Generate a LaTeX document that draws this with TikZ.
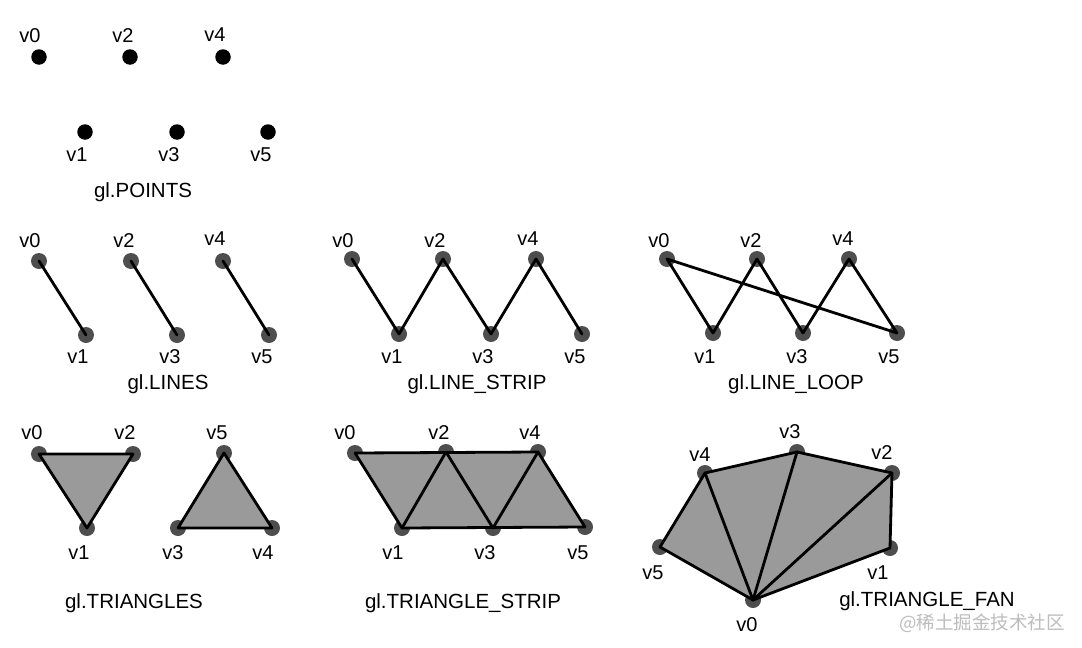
\documentclass[tikz,border=0pt]{standalone}
\usepackage{fontspec}
\setmainfont{Liberation Sans}
\newfontfamily\cjk{Noto Sans CJK SC}
\definecolor{dotgray}{HTML}{4E4E4E}
\definecolor{facegray}{HTML}{9A9A9A}
\definecolor{markgray}{HTML}{BDBDBD}
\begin{document}
\begin{tikzpicture}[x=1pt,y=-1pt,
  bdot/.style={circle,fill=black,minimum size=15.5pt,inner sep=0pt},
  gdot/.style={circle,fill=dotgray,minimum size=16pt,inner sep=0pt},
  lbl/.style={inner sep=0pt,font=\fontsize{20}{22}\selectfont},
  ttl/.style={inner sep=0pt,font=\fontsize{20.5}{23}\selectfont},
  edge/.style={line width=2.8pt,line join=round,line cap=round},
  face/.style={fill=facegray}]
\fill[white] (0,0) rectangle (1082,648);
\useasboundingbox (0,0) rectangle (1082,648);

% ---------- gl.POINTS ----------
\node[bdot] (a0) at (39,57) {};
\node[bdot] (a2) at (130,57) {};
\node[bdot] (a4) at (223,57) {};
\node[bdot] (a1) at (85,132) {};
\node[bdot] (a3) at (177,132) {};
\node[bdot] (a5) at (268,132) {};
\node[lbl] (la0) at (30,36) {v0};
\node[lbl] (la2) at (123,36) {v2};
\node[lbl] (la4) at (215,35) {v4};
\node[lbl] (la1) at (77,155) {v1};
\node[lbl] (la3) at (169,155) {v3};
\node[lbl] (la5) at (261,155) {v5};
\node[ttl] (ta) at (143,192) {gl.POINTS};

% ---------- gl.LINES ----------
\node[gdot] (b0) at (39,261) {};
\node[gdot] (b2) at (131,261) {};
\node[gdot] (b4) at (223,261) {};
\node[gdot] (b1) at (86,335) {};
\node[gdot] (b3) at (177,335) {};
\node[gdot] (b5) at (269,335) {};
\draw[edge] (b0.center) -- (b1.center);
\draw[edge] (b2.center) -- (b3.center);
\draw[edge] (b4.center) -- (b5.center);
\node[lbl] (lb0) at (30,241) {v0};
\node[lbl] (lb2) at (124,241) {v2};
\node[lbl] (lb4) at (215,239) {v4};
\node[lbl] (lb1) at (78,357) {v1};
\node[lbl] (lb3) at (170,357) {v3};
\node[lbl] (lb5) at (262,357) {v5};
\node[ttl] (tb) at (168,384) {gl.LINES};

% ---------- gl.LINE_STRIP ----------
\node[gdot] (c0) at (352,259) {};
\node[gdot] (c2) at (443,259) {};
\node[gdot] (c4) at (536,259) {};
\node[gdot] (c1) at (399,334) {};
\node[gdot] (c3) at (491,334) {};
\node[gdot] (c5) at (582,334) {};
\draw[edge] (c0.center) -- (c1.center) -- (c2.center) -- (c3.center) -- (c4.center) -- (c5.center);
\node[lbl] (lc0) at (343,241) {v0};
\node[lbl] (lc2) at (435,241) {v2};
\node[lbl] (lc4) at (528,239) {v4};
\node[lbl] (lc1) at (392,357) {v1};
\node[lbl] (lc3) at (483,357) {v3};
\node[lbl] (lc5) at (575,357) {v5};
\node[ttl] (tc) at (477,384) {gl.LINE\_STRIP};

% ---------- gl.LINE_LOOP ----------
\node[gdot] (d0) at (667,259) {};
\node[gdot] (d2) at (757,259) {};
\node[gdot] (d4) at (849,259) {};
\node[gdot] (d1) at (713,333) {};
\node[gdot] (d3) at (803,333) {};
\node[gdot] (d5) at (897,333) {};
\draw[edge] (d0.center) -- (d1.center) -- (d2.center) -- (d3.center) -- (d4.center) -- (d5.center) -- cycle;
\node[lbl] (ld0) at (659,241) {v0};
\node[lbl] (ld2) at (751,241) {v2};
\node[lbl] (ld4) at (843,239) {v4};
\node[lbl] (ld1) at (705,357) {v1};
\node[lbl] (ld3) at (797,357) {v3};
\node[lbl] (ld5) at (889,357) {v5};
\node[ttl] (td) at (796,384) {gl.LINE\_LOOP};

% ---------- gl.TRIANGLES ----------
\node[gdot] (e0) at (39,454) {};
\node[gdot] (e2) at (133,454) {};
\node[gdot] (e1) at (87,528) {};
\node[gdot] (e5) at (224,453) {};
\node[gdot] (e3) at (178,528) {};
\node[gdot] (e4) at (272,528) {};
\filldraw[face,edge] (e0.center) -- (e1.center) -- (e2.center) -- cycle;
\filldraw[face,edge] (e3.center) -- (e4.center) -- (e5.center) -- cycle;
\node[lbl] (le0) at (32,433) {v0};
\node[lbl] (le2) at (125,433) {v2};
\node[lbl] (le1) at (79,553) {v1};
\node[lbl] (le5) at (217,433) {v5};
\node[lbl] (le3) at (173,553) {v3};
\node[lbl] (le4) at (263,553) {v4};
\node[ttl] (te) at (134,603) {gl.TRIANGLES};

% ---------- gl.TRIANGLE_STRIP ----------
\node[gdot] (f0) at (355,453) {};
\node[gdot] (f2) at (446,452) {};
\node[gdot] (f4) at (538,452) {};
\node[gdot] (f1) at (402,528) {};
\node[gdot] (f3) at (493,528) {};
\node[gdot] (f5) at (585,527) {};
\filldraw[face,edge] (f0.center) -- (f4.center) -- (f5.center) -- (f1.center) -- cycle;
\draw[edge] (f1.center) -- (f2.center) -- (f3.center) -- (f4.center);
\node[lbl] (lf0) at (345,433) {v0};
\node[lbl] (lf2) at (439,433) {v2};
\node[lbl] (lf4) at (530,433) {v4};
\node[lbl] (lf1) at (393,553) {v1};
\node[lbl] (lf3) at (485,553) {v3};
\node[lbl] (lf5) at (578,553) {v5};
\node[ttl] (tf) at (463,603) {gl.TRIANGLE\_STRIP};

% ---------- gl.TRIANGLE_FAN ----------
\node[gdot] (g0) at (753,600) {};
\node[gdot] (g1) at (890,548) {};
\node[gdot] (g2) at (892,473) {};
\node[gdot] (g3) at (797,452) {};
\node[gdot] (g4) at (705,473) {};
\node[gdot] (g5) at (660,547) {};
\filldraw[face,edge] (g0.center) -- (g1.center) -- (g2.center) -- (g3.center) -- (g4.center) -- (g5.center) -- cycle;
\draw[edge] (g0.center) -- (g2.center);
\draw[edge] (g0.center) -- (g3.center);
\draw[edge] (g0.center) -- (g4.center);
\node[lbl] (lg3) at (790,432) {v3};
\node[lbl] (lg4) at (700,455) {v4};
\node[lbl] (lg2) at (882,453) {v2};
\node[lbl] (lg5) at (653,573) {v5};
\node[lbl] (lg1) at (878,573) {v1};
\node[lbl] (lg0) at (747,625) {v0};
\node[ttl] (tg) at (927,601) {gl.TRIANGLE\_FAN};

% ---------- watermark ----------
\node[inner sep=0pt,text=markgray,font=\cjk\fontsize{18.5}{20}\selectfont] (wm) at (982,623) {@稀土掘金技术社区};
\end{tikzpicture}
\end{document}
